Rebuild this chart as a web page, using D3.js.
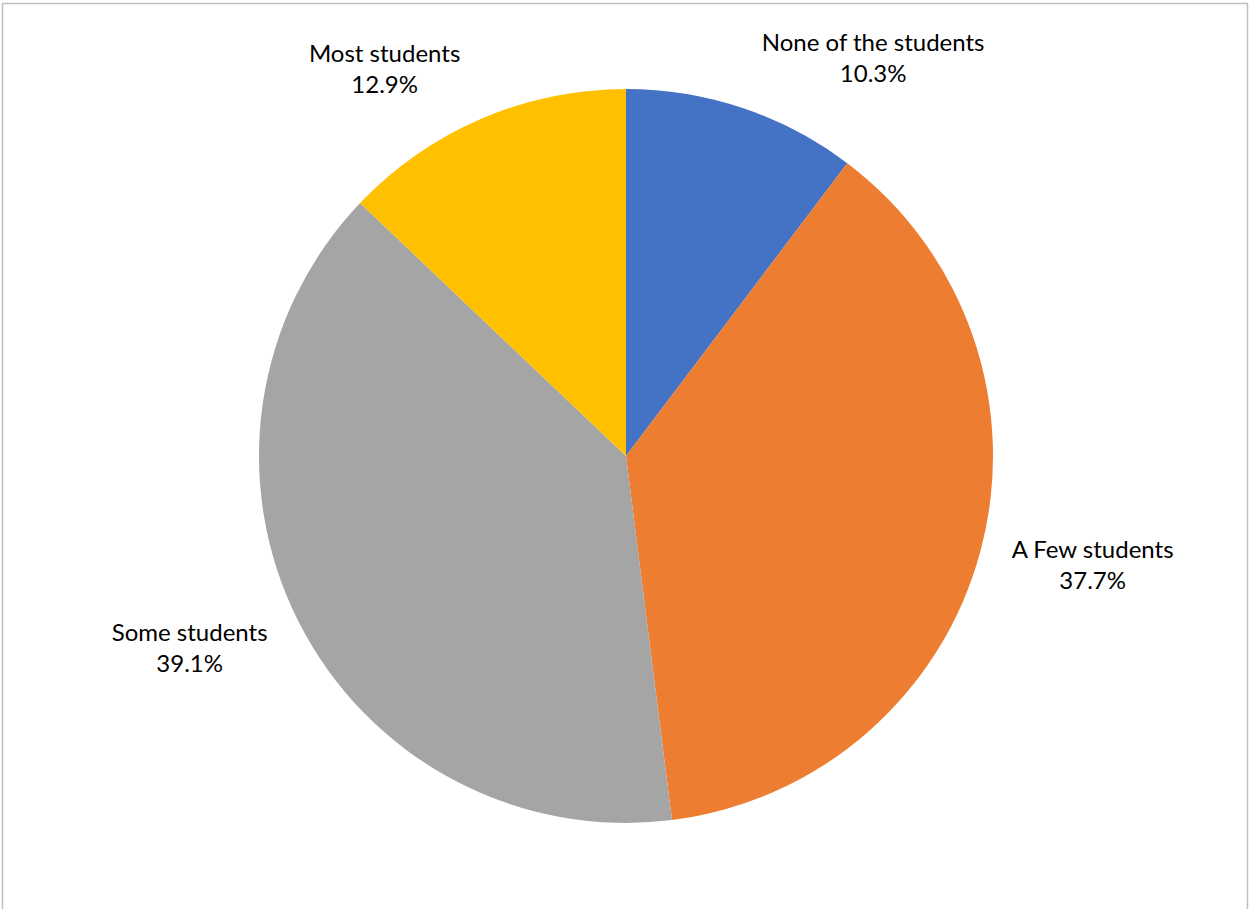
<!DOCTYPE html>
<html>
<head>
<meta charset="utf-8">
<script src="https://cdn.jsdelivr.net/npm/d3@7"></script>
<style>
    html, body { margin: 0; padding: 0; background: #fff; }
    svg text { font-family: Lato, "Open Sans", sans-serif; fill: #000; }
</style>
</head>
<body>
<div id="vis"></div>
<script>
// data
var categories = ['None of the students', 'A Few students', 'Some students', 'Most students'];
var shares = [10.3, 37.7, 39.1, 12.9];
var colors = ['#4472C4', '#ED7D31', '#A5A5A5', '#FFC000'];

// label layout (degrees added to slice mid-angle, distance from centre)
var labelShift = [13.8, -0.9, 2.2, -9.3];
var labelDist = [462, 481, 480, 449];

var width = 1250, height = 909;
var cx = 626, cy = 456, radius = 367;

var svg = d3.select('#vis')
    .append('svg')
        .attr('width', width)
        .attr('height', height);

// chart frame
svg.append('rect')
    .attr('x', 2.5)
    .attr('y', 3.5)
    .attr('width', 1245)
    .attr('height', 940)
    .attr('fill', 'none')
    .attr('stroke', '#BFBFBF')
    .attr('stroke-width', 1.5);

var g = svg.append('g')
    .attr('transform', 'translate(' + cx + ',' + cy + ')');

var pie = d3.pie()
    .sort(null)
    .value(function(d) { return d; });

var arc = d3.arc()
    .innerRadius(0)
    .outerRadius(radius);

var slices = pie(shares);

g.selectAll('.slice')
    .data(slices)
    .enter()
    .append('path')
        .attr('class', 'slice')
        .attr('d', arc)
        .attr('fill', function(d, i) { return colors[i]; });

var labels = g.selectAll('.label')
    .data(slices)
    .enter()
    .append('text')
        .attr('class', 'label')
        .attr('text-anchor', 'middle')
        .attr('font-size', 24)
        .attr('transform', function(d, i) {
            var a = (d.startAngle + d.endAngle) / 2 + labelShift[i] * Math.PI / 180;
            var x = Math.sin(a) * labelDist[i];
            var y = -Math.cos(a) * labelDist[i];
            return 'translate(' + x + ',' + y + ')';
        });

labels.append('tspan')
    .attr('x', 0)
    .attr('y', -15)
    .text(function(d, i) { return categories[i]; });

labels.append('tspan')
    .attr('x', 0)
    .attr('y', 16)
    .text(function(d) { return d.value.toFixed(1) + '%'; });
</script>
</body>
</html>
